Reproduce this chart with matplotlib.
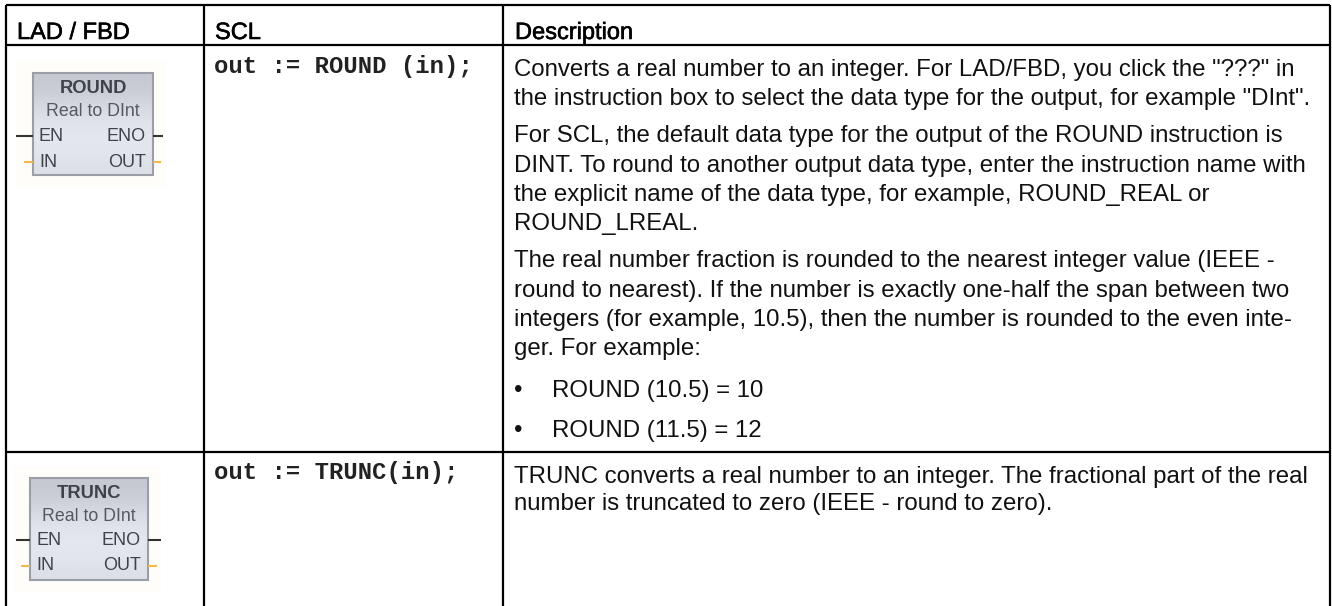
import matplotlib
matplotlib.use("Agg")
import matplotlib.pyplot as plt
import matplotlib.patheffects as pe
import numpy as np
from matplotlib.patches import Rectangle

W, H = 1332, 606

headers = ["LAD / FBD", "SCL", "Description"]
header_x = [17, 215, 515]
scl_code = ["out := ROUND (in);", "out := TRUNC(in);"]
scl_y = [73, 479]

# description lines, one entry per printed line
desc_lines = [
    'Converts a real number to an integer. For LAD/FBD, you click the "???" in',
    'the instruction box to select the data type for the output, for example "DInt".',
    'For SCL, the default data type for the output of the ROUND instruction is',
    'DINT. To round to another output data type, enter the instruction name with',
    'the explicit name of the data type, for example, ROUND_REAL or',
    'ROUND_LREAL.',
    'The real number fraction is rounded to the nearest integer value (IEEE -',
    'round to nearest). If the number is exactly one-half the span between two',
    'integers (for example, 10.5), then the number is rounded to the even inte-',
    'ger. For example:',
    'ROUND (10.5) = 10',
    'ROUND (11.5) = 12',
    'TRUNC converts a real number to an integer. The fractional part of the real',
    'number is truncated to zero (IEEE - round to zero).',
]
desc_y = [76, 105, 142, 172, 201, 230, 267, 297, 326, 355, 397, 437, 483, 510]
bullet_rows = [10, 11]

# instruction boxes
box_names = ["ROUND", "TRUNC"]
box_sub = ["Real to DInt", "Real to DInt"]
box_left = [33, 30]
box_right = [153, 148]
box_top = [73, 478]
box_bottom = [175, 580]
title_y = [93, 498]
sub_y = [116, 521]
en_text_y = [141, 545]
in_text_y = [167, 570]
en_stub_y = [136, 540]
in_stub_y = [162, 566]
stub_left = [(16, 24), (16, 21)]
stub_right = [(163, 161), (161, 157)]

# box fill from top to bottom
box_shades = [(198, 201, 210), (205, 208, 217), (216, 219, 227), (226, 228, 235),
              (229, 231, 238), (227, 229, 236), (222, 224, 232)]

fig = plt.figure(figsize=(W / 100, H / 100), dpi=100)
ax = fig.add_axes([0, 0, 1, 1])
ax.set_xlim(0, W)
ax.set_ylim(H, 0)
ax.axis("off")

# table grid
for y in [5, 45, 452]:
    ax.plot([6, 1330], [y, y], color="black", lw=1.6, solid_capstyle="butt")
for x in [6, 204, 503, 1330]:
    ax.plot([x, x], [5, H], color="black", lw=1.6, solid_capstyle="butt")

for s, x in zip(headers, header_x):
    ax.text(x, 39, s, family="Liberation Sans", fontsize=17, va="baseline", ha="left", color="black",
            path_effects=[pe.withStroke(linewidth=0.4, foreground="black")])

for s, y in zip(scl_code, scl_y):
    ax.text(214, y, s, family="Liberation Mono", weight="bold", fontsize=17.2, va="baseline", ha="left", color="#222222")

for i, (s, y) in enumerate(zip(desc_lines, desc_y)):
    x = 514
    if i in bullet_rows:
        ax.text(518, y, "\u2022", family="Liberation Sans", fontsize=17.3, va="baseline", ha="center", color="#111111")
        x = 552
    ax.text(x, y, s, family="Liberation Sans", fontsize=17.3, va="baseline", ha="left", color="#111111")

# LAD/FBD instruction boxes
grad = np.array(box_shades, dtype=float).reshape(-1, 1, 3) / 255
for i in range(2):
    l, r, t, b = box_left[i], box_right[i], box_top[i], box_bottom[i]
    ax.add_patch(Rectangle((l - 17, t - 12), r - l + 30, b - t + 24, fc="#fefdf9", ec="none", zorder=1))
    ax.imshow(grad, extent=(l, r, b, t), aspect="auto", zorder=2, interpolation="bilinear")
    ax.add_patch(Rectangle((l, t), r - l, b - t, fc="none", ec="#9a9ea6", lw=1.5, zorder=3))
    cx = (l + r) / 2
    ax.text(cx, title_y[i], box_names[i], family="Liberation Sans", weight="bold", fontsize=13.2, ha="center", va="baseline", color="#3f4248", zorder=4)
    ax.text(cx, sub_y[i], box_sub[i], family="Liberation Sans", fontsize=12.8, ha="center", va="baseline", color="#55585f", zorder=4)
    ax.text(l + 6, en_text_y[i], "EN", family="Liberation Sans", fontsize=13, ha="left", va="baseline", color="#3f4248", zorder=4)
    ax.text(r - 7, en_text_y[i], "ENO", family="Liberation Sans", fontsize=13, ha="right", va="baseline", color="#3f4248", zorder=4)
    ax.text(l + 6, in_text_y[i], "IN", family="Liberation Sans", fontsize=13, ha="left", va="baseline", color="#3f4248", zorder=4)
    ax.text(r - 7, in_text_y[i], "OUT", family="Liberation Sans", fontsize=13, ha="right", va="baseline", color="#3f4248", zorder=4)
    ax.plot([stub_left[i][0], l], [en_stub_y[i]] * 2, color="#333333", lw=1.5, solid_capstyle="butt", zorder=3)
    ax.plot([r, stub_right[i][0]], [en_stub_y[i]] * 2, color="#333333", lw=1.5, solid_capstyle="butt", zorder=3)
    ax.plot([stub_left[i][1], l], [in_stub_y[i]] * 2, color="#f2b84e", lw=1.5, solid_capstyle="butt", zorder=3)
    ax.plot([r, stub_right[i][1]], [in_stub_y[i]] * 2, color="#f2b84e", lw=1.5, solid_capstyle="butt", zorder=3)

ax.set_xlim(0, W)
ax.set_ylim(H, 0)
fig.savefig("out.png", dpi=100)
